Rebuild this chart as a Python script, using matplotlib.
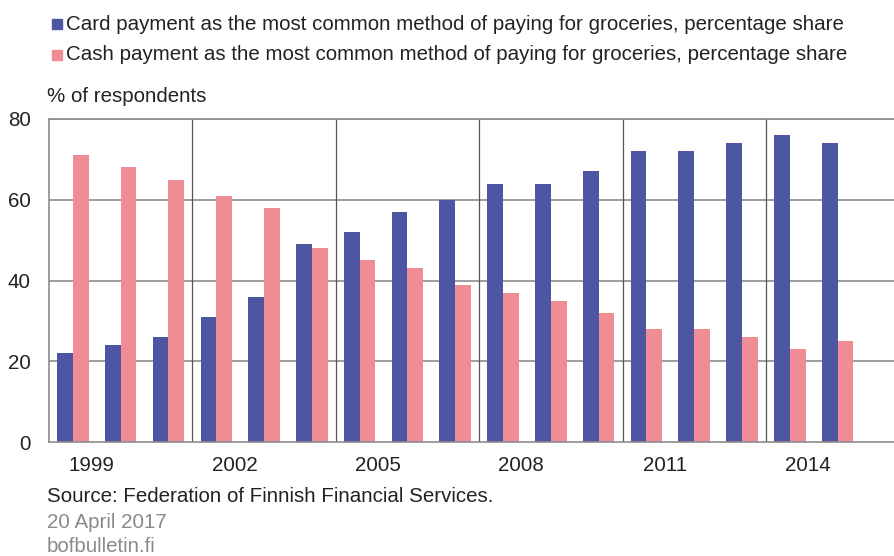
import numpy as np
import matplotlib
matplotlib.use("Agg")
import matplotlib.pyplot as plt
from matplotlib.patches import Rectangle

plt.rcParams['font.family'] = ['Liberation Sans', 'DejaVu Sans']

years = list(range(1999, 2016))
card_share = [22, 24, 26, 31, 36, 49, 52, 57, 60, 64, 64, 67, 72, 72, 74, 76, 74]
cash_share = [71, 68, 65, 61, 58, 48, 45, 43, 39, 37, 35, 32, 28, 28, 26, 23, 25]
label_years = [1999, 2002, 2005, 2008, 2011, 2014]
y_ticks = [0, 20, 40, 60, 80]

card_label = "Card payment as the most common method of paying for groceries, percentage share"
cash_label = "Cash payment as the most common method of paying for groceries, percentage share"

card_color = '#4E55A3'
cash_color = '#F08C93'
grid_color = '#8c8c8c'
text_color = '#222222'
fs = 14.8

W, H = 894, 556
fig = plt.figure(figsize=(W / 100, H / 100), dpi=100, facecolor='white')
# axes placed in pixel coords: left 49, right edge of figure, top 119, bottom 442
ax = fig.add_axes((49 / W, 1 - 442 / H, (W - 49) / W, (442 - 119) / H))

x = np.arange(len(years))
bw = 0.33
ax.bar(x - bw / 2, card_share, width=bw, color=card_color, zorder=3)
ax.bar(x + bw / 2, cash_share, width=bw, color=cash_color, zorder=3)

ax.set_xlim(-0.5, 17.18)
ax.set_ylim(0, 80)

# horizontal grid
for yv in y_ticks[1:]:
    ax.axhline(yv, color=grid_color, lw=1.2, zorder=1)
# vertical separators every three years
for xv in np.arange(2.5, len(years), 3):
    ax.axvline(xv, color='#555555', lw=0.9, zorder=1)

ax.spines['right'].set_visible(False)
for s in ['left', 'bottom', 'top']:
    ax.spines[s].set_color(grid_color)
    ax.spines[s].set_linewidth(1.2)
ax.spines['bottom'].set_zorder(4)

ax.set_yticks(y_ticks)
ax.set_yticklabels([str(v) for v in y_ticks])
# year labels sit a bit right of their bar pair in the original
ax.set_xticks([years.index(y) + 0.38 for y in label_years])
ax.set_xticklabels([str(y) for y in label_years])
ax.tick_params(axis='both', length=0, labelsize=fs, colors=text_color)
ax.tick_params(axis='y', pad=13)
ax.tick_params(axis='x', pad=10)

# legend
for i, (lab, col) in enumerate([(card_label, card_color), (cash_label, cash_color)]):
    yp = 24 + i * 31
    fig.patches.append(Rectangle((52 / W, 1 - (yp + 5) / H), 10 / W, 10 / H,
                                 transform=fig.transFigure, color=col))
    fig.text(66 / W, 1 - yp / H, lab, fontsize=fs, va='center', ha='left', color=text_color)

fig.text(47 / W, 1 - 96 / H, "% of respondents", fontsize=fs, va='center', ha='left', color=text_color)
fig.text(47 / W, 1 - 497 / H, "Source: Federation of Finnish Financial Services.", fontsize=fs,
         va='center', ha='left', color=text_color)
fig.text(47 / W, 1 - 523 / H, "20 April 2017", fontsize=fs, va='center', ha='left', color='#8a8a8a')
fig.text(47 / W, 1 - 546 / H, "bofbulletin.fi", fontsize=fs, va='center', ha='left', color='#8a8a8a')

fig.savefig('out.png', dpi=100, facecolor='white')
